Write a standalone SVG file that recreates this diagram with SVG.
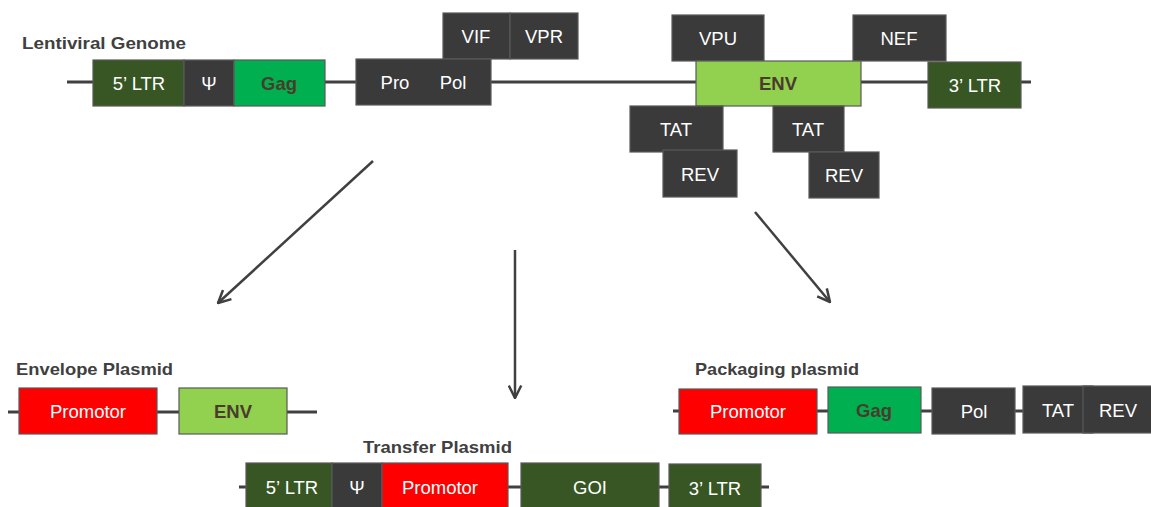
<svg xmlns="http://www.w3.org/2000/svg" width="1151" height="507" viewBox="0 0 1151 507">
  <defs>
    <style>
      .bb { stroke: #595959; stroke-width: 1.2; }
      .dark { fill: #3a3a3a; }
      .dgreen { fill: #375623; }
      .bgreen { fill: #00b050; }
      .lgreen { fill: #92d050; }
      .red { fill: #ff0000; }
      .lbl { font-family: "Liberation Sans", Arial, sans-serif; font-size: 18.5px; fill: #ffffff; text-anchor: middle; }
      .lblb { font-family: "Liberation Sans", Arial, sans-serif; font-size: 18.5px; font-weight: bold; fill: #4a3c2c; text-anchor: middle; }
      .title { font-family: "Liberation Sans", Arial, sans-serif; font-size: 17px; font-weight: bold; fill: #404040; }
      .bb-line { stroke: #404040; stroke-width: 3; fill: none; }
      .arrow { stroke: #404040; stroke-width: 2.5; fill: none; marker-end: url(#vhead); }
    </style>
    <marker id="vhead" viewBox="0 0 12 12" refX="11" refY="6" markerWidth="15" markerHeight="15" markerUnits="userSpaceOnUse" orient="auto">
      <path d="M1,1 L11,6 L1,11" fill="none" stroke="#404040" stroke-width="2"/>
    </marker>
  </defs>

  <!-- backbone lines -->
  <g id="backbones">
    <line class="bb-line" x1="67" y1="82" x2="1031" y2="82"/>
    <line class="bb-line" x1="8" y1="412" x2="317" y2="412"/>
    <line class="bb-line" x1="673" y1="411" x2="1151" y2="411"/>
    <line class="bb-line" x1="239" y1="487" x2="769" y2="487"/>
  </g>

  <!-- Lentiviral genome -->
  <g id="genome">
    <text class="title" x="22" y="49" textLength="164" lengthAdjust="spacingAndGlyphs">Lentiviral Genome</text>
    <g id="g-5ltr"><rect class="bb dgreen" x="93" y="60" width="91" height="46"/><text class="lbl" x="139" y="90">5’ LTR</text></g>
    <g id="g-psi"><rect class="bb dark" x="184" y="60" width="50" height="46"/><text class="lbl" x="209" y="90">Ψ</text></g>
    <g id="g-gag"><rect class="bb bgreen" x="234" y="60" width="91" height="46"/><text class="lblb" x="279" y="90">Gag</text></g>
    <g id="g-vif"><rect class="bb dark" x="443" y="13" width="67" height="46"/><text class="lbl" x="476" y="43">VIF</text></g>
    <g id="g-vpr"><rect class="bb dark" x="510" y="13" width="68" height="46"/><text class="lbl" x="544" y="43">VPR</text></g>
    <g id="g-propol"><rect class="bb dark" x="356" y="59" width="135" height="46"/><text class="lbl" x="395" y="89">Pro</text><text class="lbl" x="453" y="89">Pol</text></g>
    <g id="g-vpu"><rect class="bb dark" x="672" y="15" width="92" height="46"/><text class="lbl" x="718" y="45">VPU</text></g>
    <g id="g-nef"><rect class="bb dark" x="853" y="15" width="93" height="46"/><text class="lbl" x="899" y="45">NEF</text></g>
    <g id="g-env"><rect class="bb lgreen" x="696" y="61" width="165" height="45"/><text class="lblb" x="778" y="90">ENV</text></g>
    <g id="g-3ltr"><rect class="bb dgreen" x="928" y="62" width="93" height="46"/><text class="lbl" x="975" y="92">3’ LTR</text></g>
    <g id="g-tat1"><rect class="bb dark" x="630" y="106" width="93" height="46"/><text class="lbl" x="676" y="136">TAT</text></g>
    <g id="g-rev1"><rect class="bb dark" x="663" y="150" width="74" height="47"/><text class="lbl" x="700" y="181">REV</text></g>
    <g id="g-tat2"><rect class="bb dark" x="773" y="106" width="71" height="46"/><text class="lbl" x="808" y="136">TAT</text></g>
    <g id="g-rev2"><rect class="bb dark" x="809" y="152" width="70" height="46"/><text class="lbl" x="844" y="182">REV</text></g>
  </g>

  <!-- Envelope plasmid -->
  <g id="envelope">
    <text class="title" x="16" y="375" textLength="157" lengthAdjust="spacingAndGlyphs">Envelope Plasmid</text>
    <g id="e-prom"><rect class="bb red" x="19" y="388" width="138" height="46"/><text class="lbl" x="88" y="418">Promotor</text></g>
    <g id="e-env"><rect class="bb lgreen" x="179" y="388" width="108" height="46"/><text class="lblb" x="233" y="418">ENV</text></g>
  </g>

  <!-- Packaging plasmid -->
  <g id="packaging">
    <text class="title" x="695" y="375" textLength="164" lengthAdjust="spacingAndGlyphs">Packaging plasmid</text>
    <g id="p-prom"><rect class="bb red" x="679" y="389" width="138" height="45"/><text class="lbl" x="748" y="418">Promotor</text></g>
    <g id="p-gag"><rect class="bb bgreen" x="828" y="387" width="93" height="46"/><text class="lblb" x="874" y="417">Gag</text></g>
    <g id="p-pol"><rect class="bb dark" x="932" y="388" width="83" height="46"/><text class="lbl" x="974" y="418">Pol</text></g>
    <g id="p-tat"><rect class="bb dark" x="1023" y="386" width="70" height="47"/><text class="lbl" x="1058" y="417">TAT</text></g>
    <g id="p-rev"><rect class="bb dark" x="1083" y="386" width="69" height="47"/><text class="lbl" x="1118" y="417">REV</text></g>
  </g>

  <!-- Transfer plasmid -->
  <g id="transfer">
    <text class="title" x="363" y="453" textLength="149" lengthAdjust="spacingAndGlyphs">Transfer Plasmid</text>
    <g id="t-5ltr"><rect class="bb dgreen" x="246" y="463" width="86" height="48"/><text class="lbl" x="292" y="494">5’ LTR</text></g>
    <g id="t-psi"><rect class="bb dark" x="332" y="463" width="50" height="48"/><text class="lbl" x="357" y="494">Ψ</text></g>
    <g id="t-prom"><rect class="bb red" x="382" y="463" width="126" height="48"/><text class="lbl" x="440" y="494">Promotor</text></g>
    <g id="t-goi"><rect class="bb dgreen" x="521" y="463" width="138" height="48"/><text class="lbl" x="590" y="494">GOI</text></g>
    <g id="t-3ltr"><rect class="bb dgreen" x="669" y="464" width="92" height="48"/><text class="lbl" x="715" y="495">3’ LTR</text></g>
  </g>

  <!-- connectors -->
  <g id="connectors">
    <line class="arrow" x1="373" y1="161" x2="218" y2="303"/>
    <line class="arrow" x1="515" y1="250" x2="515" y2="398"/>
    <line class="arrow" x1="755" y1="212" x2="830" y2="302"/>
  </g>
</svg>
